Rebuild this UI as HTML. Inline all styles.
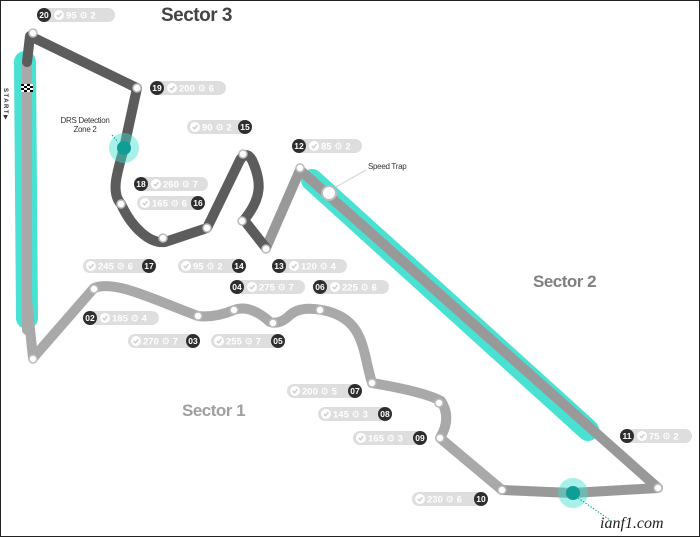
<!DOCTYPE html>
<html><head><meta charset="utf-8"><style>
html,body{margin:0;padding:0;background:#fff;}
svg{display:block;font-family:"Liberation Sans","DejaVu Sans",sans-serif;}
.pill{fill:#dedede}
.pt{fill:#fff;font-size:9.5px;font-weight:bold}
.nc{fill:#2e2e2e}
.nt{fill:#fff;font-size:8.5px;font-weight:bold;text-anchor:middle}
.node{fill:#fff;stroke:#bbb;stroke-width:1.5}
</style></head><body>
<svg width="700" height="537" viewBox="0 0 700 537" xmlns="http://www.w3.org/2000/svg">
<defs>
<g id="chk"><circle r="5" fill="#fff"/><path d="M-2.2,0 L-0.5,1.8 L2.4,-1.8" stroke="#ccc" stroke-width="1.4" fill="none"/></g>
</defs>
<rect x="0.5" y="0.5" width="699" height="536" fill="#fff" stroke="#222" stroke-width="1"/>

<!-- cyan highlights -->
<line x1="25" y1="62" x2="27" y2="318" stroke="#3fe0d0" stroke-width="22" stroke-linecap="round" opacity="0.95"/>
<line x1="312" y1="180" x2="588" y2="430" stroke="#3fe0d0" stroke-width="22" stroke-linecap="round" opacity="0.95"/>

<!-- sector 1 (light) -->
<path d="M502,490 L440,438 Q452,418 441,401 Q425,392 372,383 C362,350 365,318 322,310 Q300,306 290,315 Q280,325 270,322 Q250,304 234,310 Q215,318 198,316 C150,298 115,280 94,288 L33,358 L27,300" fill="none" stroke="#a9a9a9" stroke-width="10" stroke-linejoin="round" stroke-linecap="round"/>
<!-- start straight -->
<path d="M27,330 L27,60" fill="none" stroke="#a9a9a9" stroke-width="10" stroke-linecap="round"/>
<!-- sector 2 -->
<path d="M266,248 L300,170 L658,488 L572,493 L502,490" fill="none" stroke="#999" stroke-width="10" stroke-linejoin="round" stroke-linecap="round"/>
<!-- sector 3 (dark) -->
<path d="M27,62 L30,36 L137,88 L124,148 C118,170 110,192 121,204 C132,228 150,244 165,242 L207,228 L240,160 Q246,150 252,160 C262,182 262,198 244,220 L266,248" fill="none" stroke="#5c5c5c" stroke-width="10" stroke-linejoin="round" stroke-linecap="round"/>

<!-- checkered flag -->
<g transform="translate(21,84)">
<rect width="12" height="8" fill="#fff"/>
<rect x="0" y="0" width="3" height="2" fill="#000"/><rect x="6" y="0" width="3" height="2" fill="#000"/>
<rect x="3" y="2" width="3" height="2" fill="#000"/><rect x="9" y="2" width="3" height="2" fill="#000"/>
<rect x="0" y="4" width="3" height="2" fill="#000"/><rect x="6" y="4" width="3" height="2" fill="#000"/>
<rect x="3" y="6" width="3" height="2" fill="#000"/><rect x="9" y="6" width="3" height="2" fill="#000"/>
</g>
<text transform="translate(4,88) rotate(90)" font-size="6" font-weight="bold" fill="#333" letter-spacing="1.5">START▶</text>

<!-- nodes -->
<circle class="node" cx="33" cy="33" r="4"/>
<circle class="node" cx="137" cy="88" r="4"/>
<circle class="node" cx="121" cy="204" r="4"/>
<circle class="node" cx="163" cy="238" r="4"/>
<circle class="node" cx="207" cy="228" r="4"/>
<circle class="node" cx="243" cy="154" r="4"/>
<circle class="node" cx="242" cy="221" r="4"/>
<circle class="node" cx="266" cy="249" r="4"/>
<circle class="node" cx="300" cy="168" r="4"/>
<circle class="node" cx="658" cy="488" r="4"/>
<circle class="node" cx="502" cy="490" r="4"/>
<circle class="node" cx="440" cy="438" r="4"/>
<circle class="node" cx="439" cy="403" r="4"/>
<circle class="node" cx="372" cy="383" r="4"/>
<circle class="node" cx="320" cy="310" r="4"/>
<circle class="node" cx="273" cy="323" r="4"/>
<circle class="node" cx="234" cy="310" r="4"/>
<circle class="node" cx="198" cy="316" r="4"/>
<circle class="node" cx="94" cy="289" r="4"/>
<circle class="node" cx="33" cy="359" r="4"/>
<circle cx="329" cy="193" r="7" fill="#fff" stroke="#bbb" stroke-width="2"/>

<!-- DRS dots -->
<circle cx="124" cy="148" r="15" fill="#3fe0d0" opacity="0.45"/>
<circle cx="124" cy="148" r="7" fill="#0e9e95"/>
<circle cx="573" cy="493" r="15" fill="#3fe0d0" opacity="0.45"/>
<circle cx="573" cy="493" r="7" fill="#0e9e95"/>
<line x1="112" y1="135" x2="118" y2="142" stroke="#0e9e95" stroke-dasharray="1.5,1.5"/>
<line x1="578" y1="498" x2="610" y2="520" stroke="#0e9e95" stroke-dasharray="1.5,1.5"/>
<line x1="336" y1="187" x2="366" y2="170" stroke="#ccc"/>

<text x="85" y="123" font-size="8" fill="#333" text-anchor="middle" letter-spacing="-0.3">DRS Detection</text>
<text x="85" y="132" font-size="8" fill="#333" text-anchor="middle" letter-spacing="-0.3">Zone 2</text>
<text x="368" y="169" font-size="8" fill="#333" letter-spacing="-0.3">Speed Trap</text>

<!-- sector titles -->
<text x="161" y="21" font-size="19" font-weight="bold" fill="#444" letter-spacing="-0.5">Sector 3</text>
<text x="533" y="287" font-size="17" font-weight="bold" fill="#808080" letter-spacing="-0.5">Sector 2</text>
<text x="182" y="416" font-size="17" font-weight="bold" fill="#a0a0a0" letter-spacing="-0.5">Sector 1</text>

<!-- labels: number first -->
<g transform="translate(37,15)"><rect class="pill" x="2" y="-7" width="76" height="14" rx="7"/><circle class="nc" cx="7" r="7"/><text class="nt" x="7" y="3">20</text><use href="#chk" x="22"/><text class="pt" x="29" y="3.5">95 ⚙ 2</text></g>
<g transform="translate(150,88)"><rect class="pill" x="2" y="-7" width="74" height="14" rx="7"/><circle class="nc" cx="7" r="7"/><text class="nt" x="7" y="3">19</text><use href="#chk" x="22"/><text class="pt" x="29" y="3.5">200 ⚙ 6</text></g>
<g transform="translate(292,146)"><rect class="pill" x="2" y="-7" width="68" height="14" rx="7"/><circle class="nc" cx="7" r="7"/><text class="nt" x="7" y="3">12</text><use href="#chk" x="22"/><text class="pt" x="29" y="3.5">85 ⚙ 2</text></g>
<g transform="translate(134,184)"><rect class="pill" x="2" y="-7" width="72" height="14" rx="7"/><circle class="nc" cx="7" r="7"/><text class="nt" x="7" y="3">18</text><use href="#chk" x="22"/><text class="pt" x="29" y="3.5">260 ⚙ 7</text></g>
<g transform="translate(272,266)"><rect class="pill" x="2" y="-7" width="73" height="14" rx="7"/><circle class="nc" cx="7" r="7"/><text class="nt" x="7" y="3">13</text><use href="#chk" x="22"/><text class="pt" x="29" y="3.5">120 ⚙ 4</text></g>
<g transform="translate(230,287)"><rect class="pill" x="2" y="-7" width="73" height="14" rx="7"/><circle class="nc" cx="7" r="7"/><text class="nt" x="7" y="3">04</text><use href="#chk" x="22"/><text class="pt" x="29" y="3.5">275 ⚙ 7</text></g>
<g transform="translate(313,287)"><rect class="pill" x="2" y="-7" width="74" height="14" rx="7"/><circle class="nc" cx="7" r="7"/><text class="nt" x="7" y="3">06</text><use href="#chk" x="22"/><text class="pt" x="29" y="3.5">225 ⚙ 6</text></g>
<g transform="translate(83,318)"><rect class="pill" x="2" y="-7" width="74" height="14" rx="7"/><circle class="nc" cx="7" r="7"/><text class="nt" x="7" y="3">02</text><use href="#chk" x="22"/><text class="pt" x="29" y="3.5">185 ⚙ 4</text></g>
<g transform="translate(620,436)"><rect class="pill" x="2" y="-7" width="70" height="14" rx="7"/><circle class="nc" cx="7" r="7"/><text class="nt" x="7" y="3">11</text><use href="#chk" x="22"/><text class="pt" x="29" y="3.5">75 ⚙ 2</text></g>

<!-- labels: number last -->
<g transform="translate(187,127)"><rect class="pill" x="0" y="-7" width="63" height="14" rx="7"/><use href="#chk" x="8"/><text class="pt" x="15" y="3.5">90 ⚙ 2</text><circle class="nc" cx="58" r="7"/><text class="nt" x="58" y="3">15</text></g>
<g transform="translate(137,203)"><rect class="pill" x="0" y="-7" width="66" height="14" rx="7"/><use href="#chk" x="8"/><text class="pt" x="15" y="3.5">165 ⚙ 6</text><circle class="nc" cx="61" r="7"/><text class="nt" x="61" y="3">16</text></g>
<g transform="translate(83,266)"><rect class="pill" x="0" y="-7" width="70" height="14" rx="7"/><use href="#chk" x="8"/><text class="pt" x="15" y="3.5">245 ⚙ 6</text><circle class="nc" cx="66" r="7"/><text class="nt" x="66" y="3">17</text></g>
<g transform="translate(178,266)"><rect class="pill" x="0" y="-7" width="66" height="14" rx="7"/><use href="#chk" x="8"/><text class="pt" x="15" y="3.5">95 ⚙ 2</text><circle class="nc" cx="61" r="7"/><text class="nt" x="61" y="3">14</text></g>
<g transform="translate(128,341)"><rect class="pill" x="0" y="-7" width="70" height="14" rx="7"/><use href="#chk" x="8"/><text class="pt" x="15" y="3.5">270 ⚙ 7</text><circle class="nc" cx="65" r="7"/><text class="nt" x="65" y="3">03</text></g>
<g transform="translate(211,341)"><rect class="pill" x="0" y="-7" width="71" height="14" rx="7"/><use href="#chk" x="8"/><text class="pt" x="15" y="3.5">255 ⚙ 7</text><circle class="nc" cx="67" r="7"/><text class="nt" x="67" y="3">05</text></g>
<g transform="translate(287,391)"><rect class="pill" x="0" y="-7" width="72" height="14" rx="7"/><use href="#chk" x="8"/><text class="pt" x="15" y="3.5">200 ⚙ 5</text><circle class="nc" cx="68" r="7"/><text class="nt" x="68" y="3">07</text></g>
<g transform="translate(318,414)"><rect class="pill" x="0" y="-7" width="72" height="14" rx="7"/><use href="#chk" x="8"/><text class="pt" x="15" y="3.5">145 ⚙ 3</text><circle class="nc" cx="67" r="7"/><text class="nt" x="67" y="3">08</text></g>
<g transform="translate(353,438)"><rect class="pill" x="0" y="-7" width="72" height="14" rx="7"/><use href="#chk" x="8"/><text class="pt" x="15" y="3.5">165 ⚙ 3</text><circle class="nc" cx="67" r="7"/><text class="nt" x="67" y="3">09</text></g>
<g transform="translate(412,499)"><rect class="pill" x="0" y="-7" width="73" height="14" rx="7"/><use href="#chk" x="8"/><text class="pt" x="15" y="3.5">230 ⚙ 6</text><circle class="nc" cx="69" r="7"/><text class="nt" x="69" y="3">10</text></g>

<text x="600" y="528" font-size="16" font-family="Liberation Serif, serif" font-style="italic" fill="#222">ianf1.com</text>
</svg>
</body></html>
